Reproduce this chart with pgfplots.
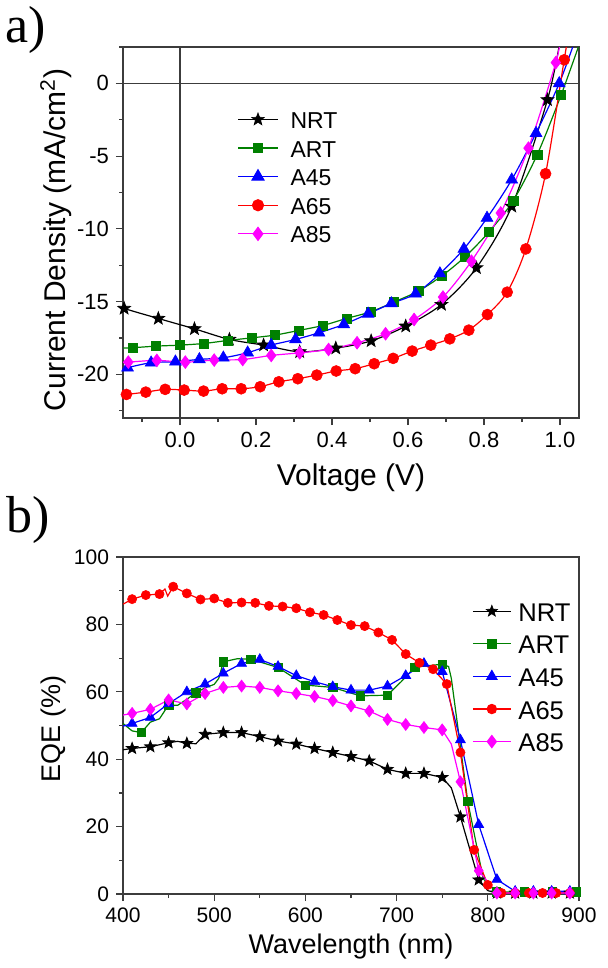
\documentclass[border=0pt]{standalone}
\usepackage{pgfplots}
\pgfplotsset{compat=1.18}
\usepackage{fontspec}
\setmainfont{Liberation Sans}
\newfontfamily\timesfont{Liberation Serif}
\definecolor{cgreen}{RGB}{0,128,0}
\definecolor{cblue}{RGB}{0,0,255}
\definecolor{cred}{RGB}{255,0,0}
\definecolor{cmag}{RGB}{255,0,255}
\definecolor{axcol}{RGB}{60,60,60}
\pgfdeclareplotmark{fstar}{%
  \pgfpathmoveto{\pgfpointpolar{90}{\pgfplotmarksize}}%
  \pgfpathlineto{\pgfpointpolar{126}{0.42\pgfplotmarksize}}%
  \pgfpathlineto{\pgfpointpolar{162}{\pgfplotmarksize}}%
  \pgfpathlineto{\pgfpointpolar{198}{0.42\pgfplotmarksize}}%
  \pgfpathlineto{\pgfpointpolar{234}{\pgfplotmarksize}}%
  \pgfpathlineto{\pgfpointpolar{270}{0.42\pgfplotmarksize}}%
  \pgfpathlineto{\pgfpointpolar{306}{\pgfplotmarksize}}%
  \pgfpathlineto{\pgfpointpolar{342}{0.42\pgfplotmarksize}}%
  \pgfpathlineto{\pgfpointpolar{18}{\pgfplotmarksize}}%
  \pgfpathlineto{\pgfpointpolar{54}{0.42\pgfplotmarksize}}%
  \pgfpathclose
  \pgfusepathqfillstroke}
\pgfplotsset{
 common/.style={
  scale only axis, width=228pt,
  axis line style={axcol, line width=0.6pt},
  tick align=outside, xtick pos=bottom, ytick pos=left,
  major tick length=3.5pt, minor tick length=2pt,
  major tick style={axcol, line width=0.6pt},
  minor tick style={axcol, line width=0.6pt},
  /pgf/number format/assume math mode=true,
  legend cell align=left,
 },
 ln/.style={no markers, line width=0.6pt, forget plot},
 mk/.style={only marks, forget plot, mark options={solid, line width=0.3pt}},
}
\begin{document}
\begin{tikzpicture}
\useasboundingbox (0,0) rectangle (303.5pt,-484pt);
\node[anchor=base west, inner sep=0pt] at (2.5pt,-21.5pt) {\timesfont\fontsize{26}{30}\selectfont a)};
\node[anchor=base west, inner sep=0pt] at (3pt,-266pt) {\timesfont\fontsize{26}{30}\selectfont b)};
% ---------------- top: J-V ----------------
\begin{axis}[common, at={(61.5pt,-209pt)}, anchor=south west, height=185.5pt,
  xmin=-0.15, xmax=1.05, ymin=-23, ymax=2.5,
  tick label style={font=\fontsize{11}{13}\selectfont, text=black},
  label style={font=\fontsize{15}{17}\selectfont},
  xtick={0,0.2,0.4,0.6,0.8,1.0}, minor xtick={-0.1,0.1,0.3,0.5,0.7,0.9},
  ytick={-20,-15,-10,-5,0}, minor ytick={-22.5,-17.5,-12.5,-7.5,-2.5,2.5},
  xticklabel style={/pgf/number format/.cd, fixed, fixed zerofill, precision=1},
  extra x ticks={0}, extra x tick labels={}, extra x tick style={grid=major, major grid style={axcol, line width=0.6pt}},
  extra y ticks={0}, extra y tick labels={}, extra y tick style={grid=major, major grid style={axcol, line width=0.6pt}},
  xlabel={Voltage (V)}, ylabel={Current Density (mA/cm\textsuperscript{2})},
  xlabel style={at={(axis description cs:0.5,-0.162)}, anchor=center},
  ylabel style={at={(axis description cs:-0.147,0.48)}, anchor=center},
  legend image code/.code={\draw[mark repeat=2,mark phase=2] plot coordinates {(0pt,0pt) (10pt,0pt) (20pt,0pt)};},
  legend style={draw=none, fill=none, at={(axis description cs:0.25,0.83)}, anchor=north west,
    font=\fontsize{11.5}{13}\selectfont, row sep=5.3pt, column sep=6pt, inner sep=0pt,
    nodes={inner sep=0pt, text height=9pt, text depth=0pt}},
]
% NRT
\addplot[ln, black, smooth] coordinates {(-0.155,-15.3)(-0.147,-15.47)(-0.057,-16.16)(0.038,-16.87)(0.130,-17.60)(0.220,-17.99)(0.315,-18.45)(0.41,-18.2)(0.503,-17.7)(0.594,-16.69)(0.688,-15.2)(0.78,-12.68)(0.873,-8.45)(0.967,-1.13)(1.002,3.2)};
\addplot[mk, black, mark=fstar, mark size=3.3pt, mark options={fill=black}] coordinates {(-0.147,-15.47)(-0.057,-16.16)(0.038,-16.87)(0.130,-17.60)(0.220,-17.99)(0.315,-18.45)(0.41,-18.2)(0.503,-17.7)(0.594,-16.69)(0.688,-15.2)(0.78,-12.68)(0.873,-8.45)(0.967,-1.13)};
% ART
\addplot[ln, cgreen, smooth] coordinates {(-0.155,-18.2)(-0.125,-18.17)(-0.063,-18.06)(0.0,-17.99)(0.062,-17.88)(0.126,-17.67)(0.189,-17.49)(0.25,-17.3)(0.313,-16.98)(0.376,-16.64)(0.438,-16.16)(0.502,-15.70)(0.562,-15.04)(0.627,-14.28)(0.688,-13.25)(0.75,-11.92)(0.813,-10.21)(0.877,-8.05)(0.94,-4.9)(1.003,-0.79)(1.055,3.0)};
\addplot[mk, cgreen, mark=square*, mark size=2.3pt] coordinates {(-0.125,-18.17)(-0.063,-18.06)(0.0,-17.99)(0.062,-17.88)(0.126,-17.67)(0.189,-17.49)(0.25,-17.3)(0.313,-16.98)(0.376,-16.64)(0.438,-16.16)(0.502,-15.70)(0.562,-15.04)(0.627,-14.28)(0.688,-13.25)(0.75,-11.92)(0.813,-10.21)(0.877,-8.05)(0.94,-4.9)(1.003,-0.79)};
% A45
\addplot[ln, cblue, smooth] coordinates {(-0.155,-19.7)(-0.138,-19.54)(-0.076,-19.2)(-0.012,-19.13)(0.051,-18.97)(0.114,-18.86)(0.178,-18.51)(0.24,-17.99)(0.304,-17.6)(0.366,-17.14)(0.431,-16.57)(0.495,-15.84)(0.556,-15.13)(0.62,-14.46)(0.684,-13.07)(0.747,-11.38)(0.808,-9.25)(0.873,-6.62)(0.937,-3.42)(0.998,0.0)(1.04,3.0)};
\addplot[mk, cblue, mark=triangle*, mark size=3.4pt] coordinates {(-0.138,-19.54)(-0.076,-19.2)(-0.012,-19.13)(0.051,-18.97)(0.114,-18.86)(0.178,-18.51)(0.24,-17.99)(0.304,-17.6)(0.366,-17.14)(0.431,-16.57)(0.495,-15.84)(0.556,-15.13)(0.62,-14.46)(0.684,-13.07)(0.747,-11.38)(0.808,-9.25)(0.873,-6.62)(0.937,-3.42)(0.998,0.0)};
% A65
\addplot[ln, cred, smooth] coordinates {(-0.155,-21.4)(-0.141,-21.38)(-0.09,-21.22)(-0.039,-21.03)(0.011,-21.08)(0.062,-21.15)(0.111,-20.99)(0.161,-20.99)(0.211,-20.85)(0.26,-20.51)(0.31,-20.3)(0.36,-20.05)(0.411,-19.77)(0.461,-19.61)(0.511,-19.27)(0.561,-18.9)(0.611,-18.4)(0.66,-17.99)(0.71,-17.56)(0.76,-16.96)(0.809,-15.89)(0.861,-14.35)(0.91,-11.38)(0.962,-6.21)(1.011,1.62)(1.02,3.0)};
\addplot[mk, cred, mark=*, mark size=2.75pt] coordinates {(-0.141,-21.38)(-0.09,-21.22)(-0.039,-21.03)(0.011,-21.08)(0.062,-21.15)(0.111,-20.99)(0.161,-20.99)(0.211,-20.85)(0.26,-20.51)(0.31,-20.3)(0.36,-20.05)(0.411,-19.77)(0.461,-19.61)(0.511,-19.27)(0.561,-18.9)(0.611,-18.4)(0.66,-17.99)(0.71,-17.56)(0.76,-16.96)(0.809,-15.89)(0.861,-14.35)(0.91,-11.38)(0.962,-6.21)(1.011,1.62)};
% A85
\addplot[ln, cmag, smooth] coordinates {(-0.155,-19.2)(-0.136,-19.16)(-0.061,-19.04)(0.014,-19.16)(0.09,-19.02)(0.165,-18.98)(0.24,-18.70)(0.315,-18.52)(0.391,-18.29)(0.466,-17.83)(0.541,-17.21)(0.616,-16.23)(0.692,-14.69)(0.767,-12.22)(0.844,-8.91)(0.917,-4.45)(0.989,1.43)(1.0,3.0)};
\addplot[mk, cmag, mark=diamond*, mark size=3.2pt] coordinates {(-0.136,-19.16)(-0.061,-19.04)(0.014,-19.16)(0.09,-19.02)(0.165,-18.98)(0.24,-18.70)(0.315,-18.52)(0.391,-18.29)(0.466,-17.83)(0.541,-17.21)(0.616,-16.23)(0.692,-14.69)(0.767,-12.22)(0.844,-8.91)(0.917,-4.45)(0.989,1.43)};
\addlegendimage{black, line width=0.6pt, mark=fstar, mark size=3.3pt, mark options={fill=black, solid, line width=0.3pt}}
\addlegendentry{NRT}
\addlegendimage{cgreen, line width=0.6pt, mark=square*, mark size=2.3pt, mark options={solid}}
\addlegendentry{ART}
\addlegendimage{cblue, line width=0.6pt, mark=triangle*, mark size=3.4pt, mark options={solid}}
\addlegendentry{A45}
\addlegendimage{cred, line width=0.6pt, mark=*, mark size=2.75pt, mark options={solid}}
\addlegendentry{A65}
\addlegendimage{cmag, line width=0.6pt, mark=diamond*, mark size=3.2pt, mark options={solid}}
\addlegendentry{A85}
\end{axis}
% ---------------- bottom: EQE ----------------
\begin{axis}[common, at={(61.5pt,-447pt)}, anchor=south west, height=168.5pt,
  xmin=400, xmax=900, ymin=0, ymax=100,
  tick label style={font=\fontsize{10.5}{12}\selectfont, text=black},
  label style={font=\fontsize{13.5}{16}\selectfont},
  xtick={400,500,600,700,800,900}, minor xtick={450,550,650,750,850},
  ytick={0,20,40,60,80,100}, minor ytick={10,30,50,70,90},
  xlabel={Wavelength (nm)}, ylabel={EQE (\%)},
  xlabel style={at={(axis description cs:0.5,-0.156)}, anchor=center},
  ylabel style={at={(axis description cs:-0.153,0.49)}, anchor=center},
  legend image code/.code={\draw[mark repeat=2,mark phase=2] plot coordinates {(0pt,0pt) (9.5pt,0pt) (19pt,0pt)};},
  legend style={draw=none, fill=none, at={(axis description cs:0.765,0.87)}, anchor=north west,
    font=\fontsize{12.8}{15}\selectfont, row sep=6.3pt, column sep=3.5pt, inner sep=0pt,
    nodes={inner sep=0pt, text height=10pt, text depth=0pt}},
]
% NRT
\addplot[ln, black] coordinates {(400,42.8)(410,43.2)(430,43.7)(450,44.9)(460,45.3)(470,44.7)(480,44.6)(490,47.4)(510,47.9)(530,47.9)(550,46.7)(570,45.4)(590,44.5)(610,43.2)(630,42.0)(650,40.8)(670,39.5)(690,37.0)(710,35.8)(730,35.8)(750,34.6)(760,31.5)(770,22.9)(790,4.2)(800,1.0)(810,0.3)(900,0.3)};
\addplot[mk, black, mark=fstar, mark size=3pt, mark options={fill=black}] coordinates {(410,43.2)(430,43.7)(450,44.9)(470,44.7)(490,47.4)(510,47.9)(530,47.9)(550,46.7)(570,45.4)(590,44.5)(610,43.2)(630,42.0)(650,40.8)(670,39.5)(690,37.0)(710,35.8)(730,35.8)(750,34.6)(770,22.9)(790,4.2)(810,0.3)(830,0.3)(850,0.3)(870,0.3)(890,0.3)};
% ART
\addplot[ln, cgreen] coordinates {(400,50.6)(410,48.4)(420,47.9)(430,51.0)(440,52.0)(450,56.1)(460,56.0)(470,57.8)(480,59.7)(490,61.2)(500,62.2)(505,64.0)(510,68.9)(525,69.8)(540,69.7)(570,67.2)(600,62.0)(630,61.3)(660,58.8)(690,59.0)(705,63.0)(720,67.3)(750,68.2)(757,67.5)(760,64.0)(778,27.5)(795,4.5)(809,0.6)(900,0.6)};
\addplot[mk, cgreen, mark=square*, mark size=2.1pt] coordinates {(420,47.9)(450,56.1)(480,59.7)(510,68.9)(540,69.7)(570,67.2)(600,62.0)(630,61.3)(660,58.8)(690,59.0)(720,67.3)(750,68.2)(778,27.5)(809,0.6)(840,0.6)(871,0.6)(897,0.6)};
% A45
\addplot[ln, cblue] coordinates {(400,49.8)(410,50.6)(430,52.4)(450,56.5)(470,60.0)(490,62.3)(510,65.5)(530,68.4)(550,69.6)(570,67.5)(590,64.8)(610,63.0)(630,61.5)(650,60.5)(670,60.5)(690,61.7)(710,64.8)(730,68.4)(750,66.0)(770,45.7)(790,20.6)(810,4.3)(830,0.8)(900,0.8)};
\addplot[mk, cblue, mark=triangle*, mark size=2.9pt] coordinates {(410,50.6)(430,52.4)(450,56.5)(470,60.0)(490,62.3)(510,65.5)(530,68.4)(550,69.6)(570,67.5)(590,64.8)(610,63.0)(630,61.5)(650,60.5)(670,60.5)(690,61.7)(710,64.8)(730,68.4)(750,66.0)(770,45.7)(790,20.6)(810,4.3)(830,0.8)(850,0.8)(870,0.8)(890,0.8)};
% A65
\addplot[ln, cred] coordinates {(400,86.0)(410,87.5)(425,88.7)(440,89.0)(446,90.5)(449,88.4)(455,91.2)(470,89.2)(485,87.4)(500,87.7)(515,86.4)(530,86.5)(545,86.4)(560,85.5)(575,85.3)(590,84.8)(605,83.6)(620,82.8)(635,81.3)(650,79.8)(665,79.5)(680,77.6)(695,75.4)(710,71.2)(725,68.6)(740,66.7)(755,62.3)(770,42.0)(785,13.1)(800,2.7)(815,0.3)(900,0.3)};
\addplot[mk, cred, mark=*, mark size=2.3pt] coordinates {(410,87.5)(425,88.7)(440,89.0)(455,91.2)(470,89.2)(485,87.4)(500,87.7)(515,86.4)(530,86.5)(545,86.4)(560,85.5)(575,85.3)(590,84.8)(605,83.6)(620,82.8)(635,81.3)(650,79.8)(665,79.5)(680,77.6)(695,75.4)(710,71.2)(725,68.6)(740,66.7)(755,62.3)(770,42.0)(785,13.1)(800,2.7)(815,0.3)(830,0.3)(845,0.3)(860,0.3)(875,0.3)(890,0.3)};
% A85
\addplot[ln, cmag] coordinates {(400,53.1)(410,53.6)(430,54.8)(450,57.6)(470,56.4)(490,59.5)(510,61.3)(530,61.7)(550,61.3)(570,60.3)(590,59.5)(610,58.6)(630,57.4)(650,55.8)(670,54.3)(690,51.8)(710,50.3)(730,49.4)(750,48.7)(760,44.5)(770,33.3)(790,6.9)(810,0.3)(900,0.3)};
\addplot[mk, cmag, mark=diamond*, mark size=3pt] coordinates {(410,53.6)(430,54.8)(450,57.6)(470,56.4)(490,59.5)(510,61.3)(530,61.7)(550,61.3)(570,60.3)(590,59.5)(610,58.6)(630,57.4)(650,55.8)(670,54.3)(690,51.8)(710,50.3)(730,49.4)(750,48.7)(770,33.3)(790,6.9)(810,0.3)(830,0.3)(850,0.3)(870,0.3)(890,0.3)};
\addlegendimage{black, line width=0.6pt, mark=fstar, mark size=3pt, mark options={fill=black, solid, line width=0.3pt}}
\addlegendentry{NRT}
\addlegendimage{cgreen, line width=0.6pt, mark=square*, mark size=2.1pt, mark options={solid}}
\addlegendentry{ART}
\addlegendimage{cblue, line width=0.6pt, mark=triangle*, mark size=2.9pt, mark options={solid}}
\addlegendentry{A45}
\addlegendimage{cred, line width=0.6pt, mark=*, mark size=2.3pt, mark options={solid}}
\addlegendentry{A65}
\addlegendimage{cmag, line width=0.6pt, mark=diamond*, mark size=3pt, mark options={solid}}
\addlegendentry{A85}
\end{axis}
\end{tikzpicture}
\end{document}
